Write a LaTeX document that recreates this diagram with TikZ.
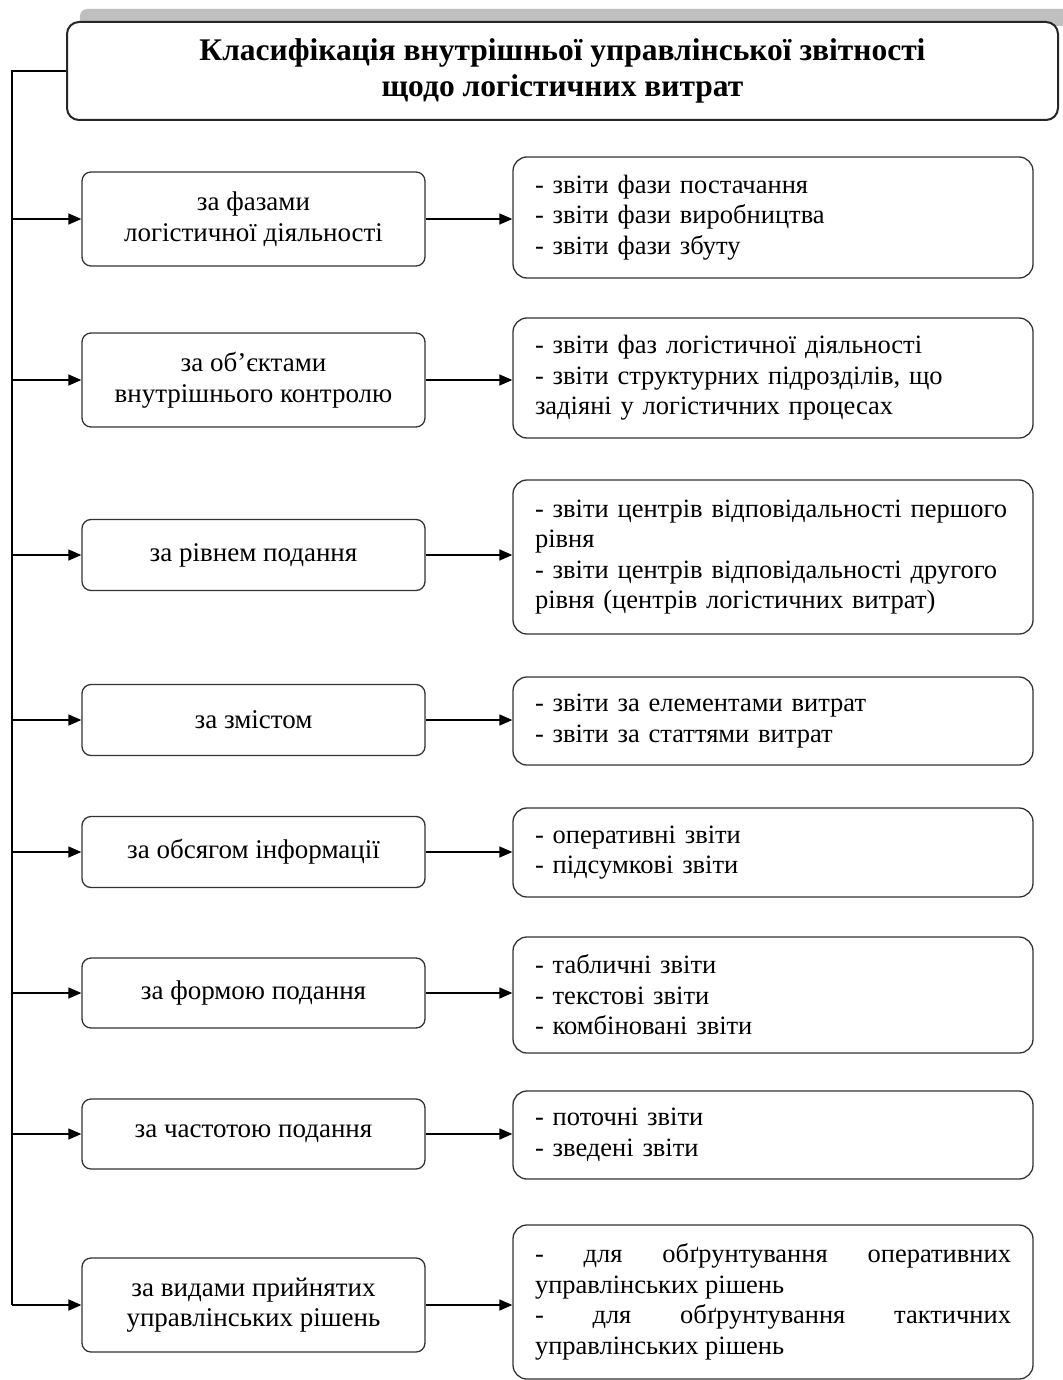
\documentclass[tikz,border=0pt]{standalone}
\usepackage{fontspec}
\setmainfont{Liberation Serif}
\usetikzlibrary{arrows.meta}
\begin{document}
\begin{tikzpicture}[x=1pt,y=-1pt,
  titlebox/.style={draw=black!85, line width=2pt, rounded corners=12pt, fill=white,
    minimum width=991pt, minimum height=98pt, align=center, inner sep=0pt,
    font=\bfseries\fontsize{31.5}{36}\selectfont},
  lbox/.style={draw=black!80, line width=1.3pt, rounded corners=9pt, fill=white,
    minimum width=343pt, align=center, inner sep=0pt,
    font=\fontsize{27}{30.5}\selectfont},
  rbox/.style={draw=black!80, line width=1.3pt, rounded corners=14pt, fill=white,
    text width=476pt, inner xsep=22pt, inner ysep=0pt, align=left,
    font=\fontsize{26.5}{30.5}\selectfont},
  arr/.style={line width=1.3pt, -{Triangle[length=13pt,width=11pt]}},
  spinearr/.style={line width=2pt, -{Triangle[length=13pt,width=11pt]}},
  spine/.style={line width=2pt}]
\useasboundingbox (0,0) rectangle (1062,1380);
\fill[white] (0,0) rectangle (1062,1380);
% shadow bar
\fill[black!25, rounded corners=7pt] (80,26) -- (80,9) -- (1075,9) -- (1075,26) -- cycle;
\node[titlebox] (title) at (562.5,71)
  {Класифікація внутрішньої управлінської звітності\\щодо логістичних витрат};
\coordinate (sp) at (12,0);

\node[lbox, minimum height=94pt] (l1) at (253.5,219) {за фазами\\логістичної діяльності};
\node[lbox, minimum height=94pt] (l2) at (253.5,380) {за об’єктами\\внутрішнього контролю};
\node[lbox, minimum height=71pt] (l3) at (253.5,555) {за рівнем подання};
\node[lbox, minimum height=71pt] (l4) at (253.5,720) {за змістом};
\node[lbox, minimum height=71pt] (l5) at (253.5,852) {за обсягом інформації};
\node[lbox, minimum height=70pt] (l6) at (253.5,993) {за формою подання};
\node[lbox, minimum height=70pt] (l7) at (253.5,1134) {за частотою подання};
\node[lbox, minimum height=94pt] (l8) at (253.5,1305) {за видами прийнятих\\управлінських рішень};

\node[rbox, minimum height=121pt] (r1) at (773,217.5)
  {- звіти фази постачання\\- звіти фази виробництва\\- звіти фази збуту};
\node[rbox, minimum height=120pt] (r2) at (773,378)
  {- звіти фаз логістичної діяльності\\- звіти структурних підрозділів, що\\задіяні у логістичних процесах};
\node[rbox, minimum height=154pt] (r3) at (773,557)
  {- звіти центрів відповідальності першого\\рівня\\- звіти центрів відповідальності другого\\рівня (центрів логістичних витрат)};
\node[rbox, minimum height=88pt] (r4) at (773,721)
  {- звіти за елементами витрат\\- звіти за статтями витрат};
\node[rbox, minimum height=89pt] (r5) at (773,852.5)
  {- оперативні звіти\\- підсумкові звіти};
\node[rbox, minimum height=116pt] (r6) at (773,995)
  {- табличні звіти\\- текстові звіти\\- комбіновані звіти};
\node[rbox, minimum height=88pt] (r7) at (773,1135)
  {- поточні звіти\\- зведені звіти};
\node[rbox, minimum height=154pt, align=justify] (r8) at (773,1302)
  {- для обґрунтування оперативних\linebreak управлінських рішень\par
   - для обґрунтування тактичних\linebreak управлінських рішень\par};

% spine
\draw[spine] (title.west) -- (title.west -| sp) -- (l8.west -| sp);
\draw[spinearr] (l8.west -| sp) -- (l8.west);
\foreach \i in {1,...,7} {
  \draw[arr] (l\i.west -| sp) -- (l\i.west);
}
\foreach \i in {1,...,8} {
  \draw[arr] (l\i.east) -- (l\i.east -| r\i.west);
}
\end{tikzpicture}
\end{document}
